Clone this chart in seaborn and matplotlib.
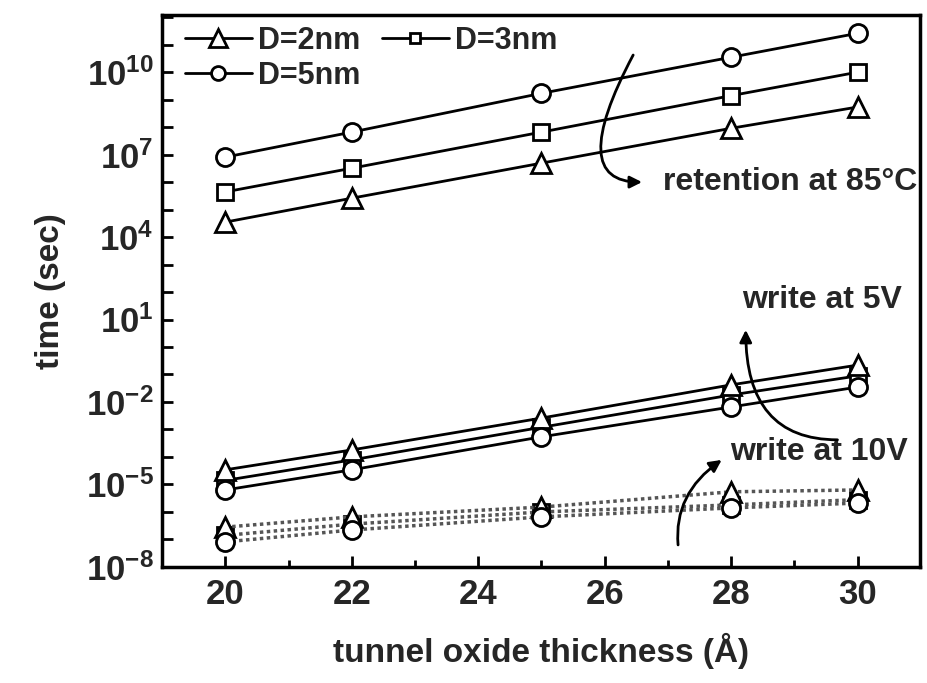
import matplotlib
matplotlib.use("Agg")
import matplotlib.pyplot as plt
import seaborn as sns
import numpy as np
import pandas as pd
from matplotlib.lines import Line2D
from matplotlib.ticker import FixedLocator, FixedFormatter, MultipleLocator

# ---------------- data ----------------
thickness = [20, 22, 25, 28, 30]

ret_2nm = [3.5e4, 2.6e5, 4.9e6, 9.1e7, 5.4e8]
ret_3nm = [4.4e5, 3.2e6, 6.6e7, 1.4e9, 1.0e10]
ret_5nm = [8.1e6, 6.6e7, 1.7e9, 3.5e10, 2.6e11]

w5_2nm = [3.4e-5, 1.8e-4, 2.6e-3, 4.2e-2, 2.2e-1]
w5_3nm = [1.4e-5, 7.8e-5, 1.2e-3, 1.8e-2, 8.9e-2]
w5_5nm = [6.3e-6, 3.4e-5, 5.4e-4, 6.6e-3, 3.5e-2]

w10_2nm = [2.8e-7, 6.6e-7, 1.5e-6, 5.4e-6, 6.3e-6]
w10_3nm = [1.4e-7, 3.6e-7, 1.0e-6, 1.8e-6, 2.8e-6]
w10_5nm = [8.1e-8, 2.2e-7, 6.6e-7, 1.4e-6, 2.1e-6]

legend_labels = ["D=2nm", "D=3nm", "D=5nm"]
ytick_vals = [1e-8, 1e-5, 1e-2, 1e1, 1e4, 1e7, 1e10]
ytick_labels = [r"$10^{-8}$", r"$10^{-5}$", r"$10^{-2}$", r"$10^{1}$",
                r"$10^{4}$", r"$10^{7}$", r"$10^{10}$"]
xtick_vals = [20, 22, 24, 26, 28, 30]

# ---------------- style ----------------
sns.set_theme(style="white")
plt.rcParams["font.family"] = ["Liberation Sans", "DejaVu Sans"]
plt.rcParams["font.weight"] = "bold"
plt.rcParams["mathtext.fontset"] = "custom"
plt.rcParams["mathtext.rm"] = "Liberation Sans:bold"
plt.rcParams["mathtext.bf"] = "Liberation Sans:bold"
plt.rcParams["mathtext.it"] = "Liberation Sans:bold"
plt.rcParams["mathtext.default"] = "rm"

fig = plt.figure(figsize=(9.28, 6.83), dpi=100)
ax = fig.add_axes([0.1746, 0.170, 0.8164, 0.808])

mk = {"D=2nm": ("^", 14), "D=3nm": ("s", 12), "D=5nm": ("o", 13)}

def draw(yvals, label, ls, color, lw):
    df = pd.DataFrame({"x": thickness, "y": yvals})
    m, ms = mk[label]
    sns.lineplot(data=df, x="x", y="y", ax=ax, color=color, lw=lw,
                 linestyle=ls, marker=m, markersize=ms,
                 markerfacecolor="white", markeredgecolor="black",
                 markeredgewidth=2, legend=False, zorder=3)

# retention
draw(ret_2nm, "D=2nm", "-", "black", 2)
draw(ret_3nm, "D=3nm", "-", "black", 2)
draw(ret_5nm, "D=5nm", "-", "black", 2)
# write 5V
draw(w5_3nm, "D=3nm", "-", "black", 2)
draw(w5_2nm, "D=2nm", "-", "black", 2)
draw(w5_5nm, "D=5nm", "-", "black", 2)
# write 10V
dot = (0, (1, 1))
draw(w10_3nm, "D=3nm", dot, "#555555", 2.5)
draw(w10_2nm, "D=2nm", dot, "#555555", 2.5)
draw(w10_5nm, "D=5nm", dot, "#555555", 2.5)

ax.set_yscale("log")
ax.set_xlim(19.0, 30.98)
ax.set_ylim(1e-8, 1.2e12)

# y ticks: every decade, label every 3rd
dec = [10.0 ** k for k in range(-8, 13)]
ax.yaxis.set_major_locator(FixedLocator(dec))
lab = []
for k in range(-8, 13):
    v = 10.0 ** k
    if v in ytick_vals:
        lab.append(ytick_labels[ytick_vals.index(v)])
    else:
        lab.append("")
ax.yaxis.set_major_formatter(FixedFormatter(lab))
ax.yaxis.set_minor_locator(FixedLocator([]))

ax.xaxis.set_major_locator(FixedLocator(xtick_vals))
ax.xaxis.set_minor_locator(MultipleLocator(1))
ax.tick_params(axis="both", which="both", direction="in", top=False, right=False,
               bottom=True, left=True, width=2, color="black")
ax.tick_params(axis="y", which="major", length=8, labelsize=25, pad=6)
ax.tick_params(axis="x", which="major", length=8, labelsize=25, pad=8)
ax.tick_params(axis="x", which="minor", length=5)
for s in ax.spines.values():
    s.set_linewidth(2.5)
    s.set_color("black")

ax.set_xlabel("tunnel oxide thickness (Å)", fontsize=24, fontweight="bold", labelpad=16)
ax.set_ylabel("time (sec)", fontsize=24, fontweight="bold", labelpad=14)

# legend
h2 = Line2D([], [], color="black", lw=2, marker="^", markersize=13,
            mfc="white", mec="black", mew=2)
h3 = Line2D([], [], color="black", lw=2, marker="s", markersize=7,
            mfc="white", mec="black", mew=2)
h5 = Line2D([], [], color="black", lw=2, marker="o", markersize=10,
            mfc="white", mec="black", mew=2)
ax.legend([h2, h5, h3], [legend_labels[0], legend_labels[2], legend_labels[1]],
          ncol=2, loc="upper left", bbox_to_anchor=(0.03, 0.98), frameon=False,
          borderpad=0, borderaxespad=0, handlelength=2.2, handletextpad=0.2,
          columnspacing=0.7, labelspacing=0.15,
          prop={"size": 22, "weight": "bold"})

# annotations
ax.text(26.92, 1.0e6, "retention at 85°C", fontsize=23, fontweight="bold",
        ha="left", va="center")
ax.text(28.17, 51, "write at 5V", fontsize=23, fontweight="bold",
        ha="left", va="center")
ax.text(27.98, 1.5e-4, "write at 10V", fontsize=23, fontweight="bold",
        ha="left", va="center")

ap = dict(arrowstyle="-|>", color="black", lw=2, mutation_scale=18,
          shrinkA=0, shrinkB=0)
ax.annotate("", xy=(26.59, 1.0e6), xytext=(26.45, 4.2e10),
            arrowprops=dict(ap, connectionstyle="angle3,angleA=62,angleB=0"))
ax.annotate("", xy=(28.23, 4.2), xytext=(29.68, 4.2e-4),
            arrowprops=dict(ap, connectionstyle="angle3,angleA=0,angleB=90"))
ax.annotate("", xy=(27.85, 7.8e-5), xytext=(27.16, 6.3e-8),
            arrowprops=dict(ap, connectionstyle="angle3,angleA=95,angleB=35"))

fig.savefig("out.png", dpi=100)
